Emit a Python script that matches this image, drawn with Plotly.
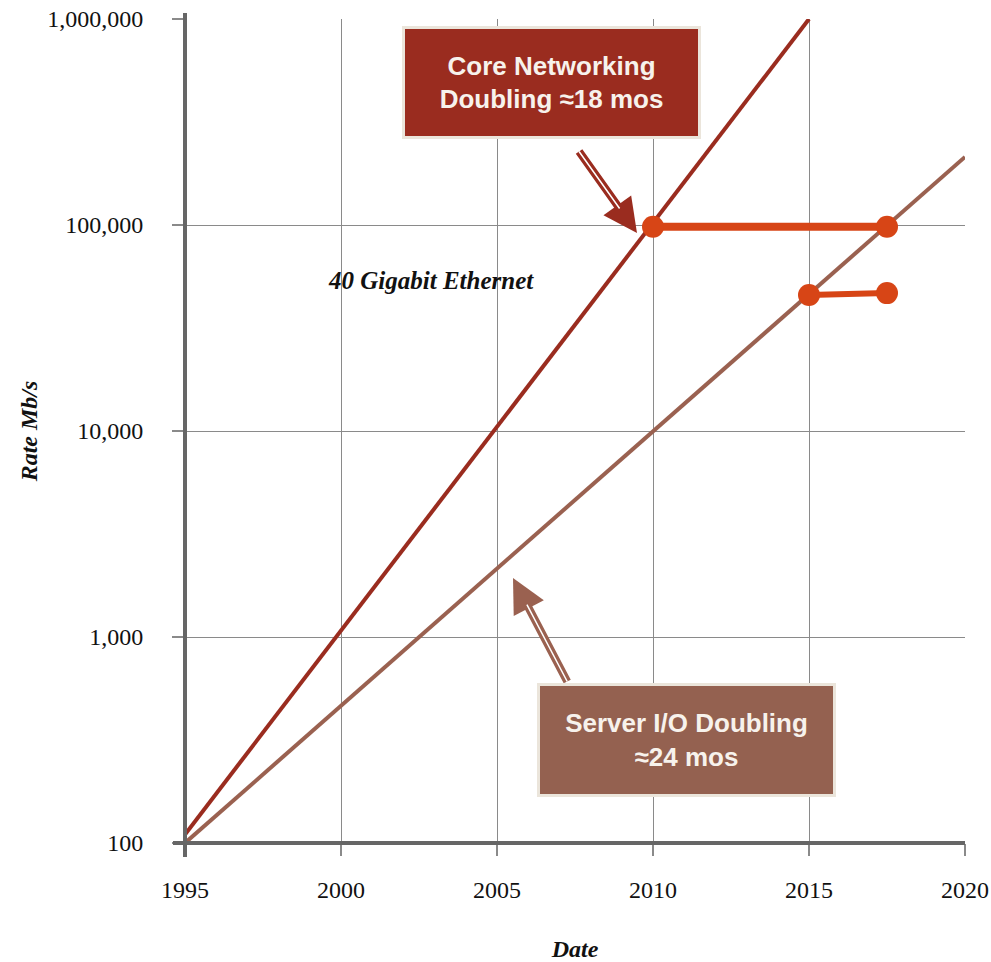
import plotly.graph_objects as go
import math

# ---- data ----
core_years = [1995, 2015]
core_rate = [110, 1000000]
server_years = [1995, 2020]
server_rate = [100, 214000]
gbe40_years = [2010, 2017.5]
gbe40_rate = [98000, 98000]
gbe40_b_years = [2015, 2017.5]
gbe40_b_rate = [45700, 46700]

x_ticks = [1995, 2000, 2005, 2010, 2015, 2020]
y_ticks = [100, 1000, 10000, 100000, 1000000]
y_tick_labels = ["100", "1,000", "10,000", "100,000", "1,000,000"]

CORE = "#9a2c1f"
SERVER = "#9a6150"
ORANGE = "#d74516"
SERIF = "Liberation Serif"

fig = go.Figure()
fig.add_trace(go.Scatter(x=core_years, y=core_rate, mode="lines",
                         line=dict(color=CORE, width=4), showlegend=False))
fig.add_trace(go.Scatter(x=server_years, y=server_rate, mode="lines",
                         line=dict(color=SERVER, width=4), showlegend=False))
fig.add_trace(go.Scatter(x=gbe40_years, y=gbe40_rate, mode="lines+markers",
                         line=dict(color=ORANGE, width=8),
                         marker=dict(color=ORANGE, size=22), showlegend=False,
                         cliponaxis=False))
fig.add_trace(go.Scatter(x=gbe40_b_years, y=gbe40_b_rate, mode="lines+markers",
                         line=dict(color=ORANGE, width=6),
                         marker=dict(color=ORANGE, size=22), showlegend=False,
                         cliponaxis=False))

W, H = 991, 962
L, R, T, B = 185, 26, 19, 119
pw, ph = W - L - R, H - T - B

def px(xp):   # page pixel -> paper x
    return (xp - L) / pw

def py(yp):   # page pixel -> paper y
    return (H - B - yp) / ph

# axis lines (extended like the original)
fig.add_shape(type="line", xref="paper", yref="paper", x0=0, x1=0,
              y0=py(857), y1=py(13), line=dict(color="#666666", width=4))
fig.add_shape(type="line", xref="paper", yref="paper", x0=px(173), x1=1,
              y0=0, y1=0, line=dict(color="#666666", width=4))

annotations = []
annotations.append(dict(x=2002.9, y=math.log10(53500), xref="x", yref="y",
                        text="<b><i>40 Gigabit Ethernet</i></b>", showarrow=False,
                        font=dict(family=SERIF, size=25, color="#111111")))

def arrow(tip, tail, color):
    (tx, ty), (sx, sy) = tip, tail
    d = math.hypot(sx - tx, sy - ty)
    ux, uy = (sx - tx) / d, (sy - ty) / d
    annotations.append(dict(x=px(tx), y=py(ty), xref="paper", yref="paper",
                            ax=sx - tx, ay=sy - ty, text="", showarrow=True,
                            arrowhead=2, arrowsize=0.85, arrowwidth=8,
                            arrowcolor=color))
    bx, by = tx + ux * 30, ty + uy * 30
    annotations.append(dict(x=px(bx), y=py(by), xref="paper", yref="paper",
                            ax=sx - bx, ay=sy - by, text="", showarrow=True,
                            arrowhead=0, arrowwidth=1.5, arrowcolor="white"))

arrow((637, 233), (578, 150), CORE)
arrow((513, 578), (568, 683), SERVER)

box_font = dict(family="Liberation Sans", size=26, color="#f7f2ec")
annotations.append(dict(x=px(551.5), y=py(83), xref="paper", yref="paper",
                        xanchor="center", yanchor="middle",
                        text="<b>Core Networking<br>Doubling ≈18 mos</b>",
                        showarrow=False, width=289, height=103, bgcolor=CORE,
                        bordercolor="#ebe5db", borderwidth=3, borderpad=2,
                        font=box_font, align="center", valign="middle"))
annotations.append(dict(x=px(686), y=py(739.5), xref="paper", yref="paper",
                        xanchor="center", yanchor="middle",
                        text="<b>Server I/O Doubling<br>≈24 mos</b>",
                        showarrow=False, width=289, height=104, bgcolor="#946150",
                        bordercolor="#ebe5db", borderwidth=3, borderpad=2,
                        font=box_font, align="center", valign="middle"))

fig.update_layout(
    width=W, height=H,
    margin=dict(l=L, r=R, t=T, b=B, autoexpand=False),
    plot_bgcolor="white", paper_bgcolor="white",
    annotations=annotations,
    xaxis=dict(range=[1995, 2020], tickvals=x_ticks, ticktext=[str(v) for v in x_ticks],
               automargin=False, ticklabeloverflow="allow",
               showgrid=True, gridcolor="#8a8a8a", gridwidth=1, zeroline=False,
               showline=False, ticks="outside", ticklen=12, tickcolor="#8a8a8a",
               tickwidth=2, ticklabelstandoff=13,
               tickfont=dict(family=SERIF, size=24, color="#111111"),
               title=dict(text="<b><i>Date</i></b>", standoff=41,
                          font=dict(family=SERIF, size=24, color="#111111"))),
    yaxis=dict(type="log", range=[2, 6], tickvals=y_ticks, ticktext=y_tick_labels,
               automargin=False, ticklabeloverflow="allow",
               showgrid=True, gridcolor="#8a8a8a", gridwidth=1, zeroline=False,
               showline=False, ticks="outside", ticklen=12, tickcolor="#8a8a8a",
               tickwidth=2, ticklabelstandoff=24,
               tickfont=dict(family=SERIF, size=24, color="#111111"),
               title=dict(text="<b><i>Rate Mb/s</i></b>", standoff=2,
                          font=dict(family=SERIF, size=24, color="#111111"))),
)

fig.write_html("out.html", config={"displayModeBar": False}, post_script=(
    "document.body.style.margin='0px';"
    "document.body.style.overflow='hidden';"
    "document.documentElement.style.overflow='hidden';"))
